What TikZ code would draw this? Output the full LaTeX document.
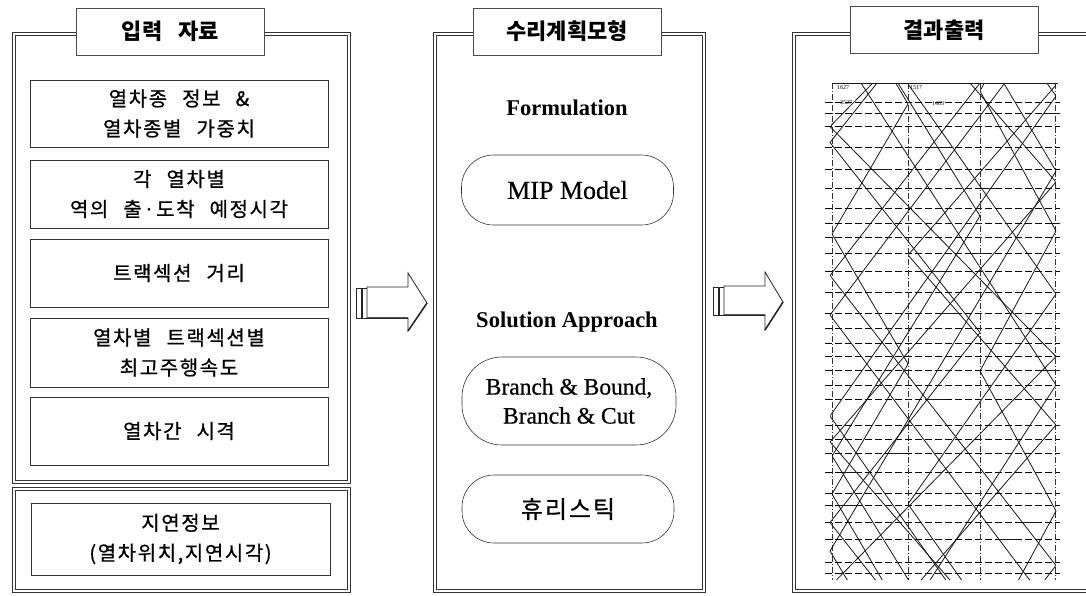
\documentclass[tikz,border=0pt]{standalone}
\usepackage{fontspec}
\setmainfont{Liberation Serif}
\newfontfamily\serifmid[FakeBold=0.6]{Liberation Serif}
\newfontfamily\kr{Noto Sans CJK KR}
\newfontfamily\krs[LetterSpace=8, FakeBold=0.7]{Noto Sans CJK KR}
\newcommand\kgap{\hspace{0.75em}}
\begin{document}
\begin{tikzpicture}[x=1pt,y=-1pt,
  frameline/.style={draw=black!80, line width=0.8pt},
  hdr/.style={draw=black!70, fill=white, line width=0.6pt, minimum width=188pt, minimum height=47pt, inner sep=0pt, font=\kr\bfseries\fontsize{22}{26}\selectfont},
  inbox/.style={draw=black!80, line width=0.8pt, minimum width=298pt, inner sep=0pt, align=center, font=\krs\fontsize{20}{30}\selectfont},
  pill/.style={draw=black!80, line width=0.6pt, rounded corners=32pt, minimum width=212pt, inner sep=0pt, align=center},
  boldlabel/.style={font=\bfseries\fontsize{22.5}{26}\selectfont},
  blockarrow/.style={draw=black!85, line width=0.8pt, fill=white},
  stationline/.style={black!80, line width=0.6pt, dash pattern=on 6pt off 2pt on 1pt off 2pt},
  timeline/.style={black, line width=0.7pt, dash pattern=on 7pt off 3pt},
  train/.style={black!90, line width=0.8pt},
  trainno/.style={font=\fontsize{6}{6}\selectfont, inner sep=0pt}]
\useasboundingbox (0,0) rectangle (1086,595);
\clip (0,0) rectangle (1086,595);
\fill[white] (0,0) rectangle (1086,595);

% ---------- panels (double frames) ----------
\foreach \xa/\ya/\xb/\yb in {12/32/350/483, 12/487/350/592, 433/32/705/592, 792/32/1100/592}{
  \draw[frameline] (\xa,\ya) rectangle (\xb,\yb);
  \draw[frameline] (\xa+3,\ya+3) rectangle (\xb-3,\yb-3);
}

% ---------- headers ----------
\node[hdr] (h1) at (170.5,31.5) {입력\kgap 자료};
\node[hdr] (h2) at (567,31.5) {수리계획모형};
\node[hdr] (h3) at (944,30) {결과출력};

% ---------- input boxes ----------
\node[inbox, minimum height=67pt] (b1) at (179,113.5) {열차종\kgap 정보\kgap\&\\열차종별\kgap 가중치};
\node[inbox, minimum height=68pt] (b2) at (179,194) {각\kgap 열차별\\역의\kgap 출·도착\kgap 예정시각};
\node[inbox, minimum height=68pt] (b3) at (179,273) {트랙섹션\kgap 거리};
\node[inbox, minimum height=69pt] (b4) at (179,352.5) {열차별\kgap 트랙섹션별\\최고주행속도};
\node[inbox, minimum height=68pt] (b5) at (179,431) {열차간\kgap 시격};
\node[inbox, minimum width=299pt, minimum height=72pt] (b6) at (180.5,539) {지연정보\\(열차위치,지연시각)};

% ---------- model panel ----------
\node[boldlabel] (form) at (567,108) {Formulation};
\node[pill, minimum height=70pt, font=\serifmid\fontsize{26}{30}\selectfont] (mip) at (567.5,190) {MIP Model};
\node[boldlabel] (sol) at (567,322) {Solution Approach};
\node[pill, minimum width=214pt, minimum height=88pt, rounded corners=40pt, font=\serifmid\fontsize{23.5}{29}\selectfont] (bb) at (569,401) {Branch \& Bound,\\Branch \& Cut};
\node[pill, minimum height=68pt, font=\krs\fontsize{24}{28}\selectfont] (heur) at (568,509) {휴리스틱};

% ---------- block arrows ----------
\draw[blockarrow] (356,288) rectangle (361,318);
\draw[blockarrow] (362,288) rectangle (367,318);
\draw[blockarrow] (367,287) -- (408,287) -- (408,273) -- (427,303) -- (408,331) -- (408,318) -- (367,318) -- cycle;
\draw[line width=1.5pt, black!85] (367,318) -- (408,318) (408,331) -- (427,303);

\draw[blockarrow] (713,287) rectangle (718,315);
\draw[blockarrow] (719,287) rectangle (724,315);
\draw[blockarrow] (724,286) -- (765,286) -- (765,272) -- (783,302) -- (765,330) -- (765,315) -- (724,315) -- cycle;
\draw[line width=1.5pt, black!85] (724,315) -- (765,315) (765,330) -- (783,302);

% ---------- train diagram ----------
\foreach \y in {102,113,126,147,169,188,208,223,237,253,271,292,313,328,343,356,370,385,399,425,439,453,472,493,505,522,539,562,573}
  \draw[timeline] (825,\y) -- (1060,\y);
\foreach \x in {832,908,980,1055}
  \draw[stationline] (\x,83) -- (\x,580);
\draw[train] (832,83) -- (1058,83);
\begin{scope}
\clip (826,83) rectangle (1060,580);
\foreach \a/\b/\L/\p in {830/1056/290/0.05, 830/1056/230/0.45, 830/1056/350/0.9, 830/1056/260/1.3,
  830/1056/320/1.7, 830/980/190/0.25, 832/980/240/1.1, 908/1056/210/0.6, 908/1056/170/1.5,
  830/1056/300/1.95, 832/908/130/1.2, 980/1056/140/0.35, 830/1056/380/1.55}
  \draw[train] plot[domain=83:580, samples=260, variable=\t] ({\a+(\b-\a)*abs(mod(\t/\L+\p,2)-1)},\t);
\foreach \a/\b/\L/\p/\yy in {830/1056/290/0.05/147, 830/1056/230/0.45/169, 830/1056/350/0.9/253,
  830/1056/260/1.3/313, 830/980/190/0.25/399, 832/980/240/1.1/472, 908/1056/210/0.6/188,
  908/1056/170/1.5/425, 830/1056/300/1.95/539, 832/908/130/1.2/505,
  980/1056/140/0.35/223, 830/1056/380/1.55/453, 830/1056/320/1.7/113,
  830/1056/290/0.05/522, 830/980/190/0.25/271, 830/1056/230/0.45/370}
  {\pgfmathsetmacro\xx{\a+(\b-\a)*abs(mod(\yy/\L+\p,2)-1)}
   \draw[train, line width=1pt] (\xx,\yy) -- ++(18,0);}
\end{scope}
\node[trainno] (n1) at (843,88) {1627};
\node[trainno] (n2) at (916,88) {1517};
\node[trainno] (n3) at (846,103) {3527};
\node[trainno] (n4) at (938,104) {1403};
\end{tikzpicture}
\end{document}
